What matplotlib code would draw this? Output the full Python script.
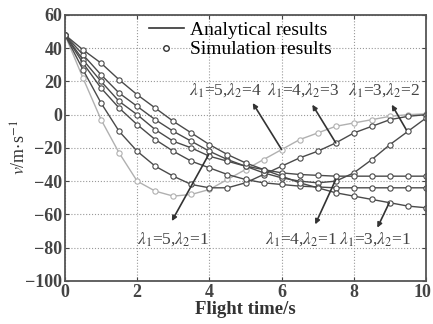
import matplotlib
matplotlib.use('Agg')
import matplotlib.pyplot as plt
import matplotlib.transforms as mtransforms
from matplotlib.lines import Line2D

plt.rcParams['font.family'] = ['Liberation Serif', 'DejaVu Serif']
plt.rcParams['mathtext.fontset'] = 'stix'

# flight time samples (s)
t = [0, 0.5, 1, 1.5, 2, 2.5, 3, 3.5, 4, 4.5, 5, 5.5, 6, 6.5, 7, 7.5, 8, 8.5, 9, 9.5, 10]

# vertical velocity v (m/s)
v_l5_l4 = [48, 22, -3, -23, -40, -46, -49, -48, -45, -39, -33, -27, -21, -15, -11, -7, -5, -3, -1, 0, 0.5]
v_l4_l3 = [48, 27, 7, -10, -22, -31, -37, -42, -44, -44, -41, -36, -31, -26, -22, -17, -11, -7, -3, -1, 0]
v_l3_l2 = [48, 36, 24, 13, 5, -3, -10, -16, -22, -27, -31, -35, -38, -40, -41, -40, -35, -27, -18, -10, -2]
v_l5_l1 = [48, 33, 20, 8, 0, -9, -16, -20, -25, -28, -31, -33, -35, -36, -36.5, -37, -37, -37, -37, -37, -37]
v_l4_l1 = [48, 31, 16, 4, -6, -15, -22, -28, -32, -36, -39, -41, -42, -43, -43.5, -44, -44, -44, -44, -44, -44]
v_l3_l1 = [48, 39, 31, 21, 12, 4, -4, -11, -18, -24, -29, -33, -37, -41, -44, -47, -49, -51, -53, -55, -56]

series = [v_l5_l4, v_l4_l3, v_l3_l2, v_l5_l1, v_l4_l1, v_l3_l1]
colors = ['#b0b0b0', '#4a4a4a', '#4a4a4a', '#4a4a4a', '#4a4a4a', '#4a4a4a']

labels = [r'$\lambda_1$=5,$\lambda_2$=4', r'$\lambda_1$=4,$\lambda_2$=3', r'$\lambda_1$=3,$\lambda_2$=2',
          r'$\lambda_1$=5,$\lambda_2$=1', r'$\lambda_1$=4,$\lambda_2$=1', r'$\lambda_1$=3,$\lambda_2$=1']
label_pos = [(4.45, 15), (6.6, 15), (8.85, 15), (3.0, -75), (6.55, -75), (8.6, -75)]
# arrow: (point on curve, arrow head near the label)
arrows = [((6.0, -21), (5.2, 7)), ((7.5, -17), (6.85, 6)), ((9.45, -9), (9.05, 6)),
          ((3.98, -24), (2.96, -64)), ((7.5, -39), (6.93, -66)), ((8.98, -53), (8.65, -68))]

fig = plt.figure(figsize=(4.33, 3.24), dpi=100)
ax = fig.add_axes([0.150, 0.133, 0.834, 0.821])

for v, c in zip(series, colors):
    ax.plot(t, v, color=c, lw=1.0, marker='o', ms=3.8, mfc='white', mec=c, mew=0.8)

for lab, (x, y) in zip(labels, label_pos):
    ax.text(x, y, lab, ha='center', va='center', fontsize=12.5, color='#444444')

for (x0, y0), (x1, y1) in arrows:
    ax.annotate('', xy=(x1, y1), xytext=(x0, y0),
                arrowprops=dict(arrowstyle='-|>', color='#333333', lw=1.2,
                                mutation_scale=7, shrinkA=0, shrinkB=0))

ax.set_xlim(0, 10)
ax.set_ylim(-100, 60)
ax.set_xticks([0, 2, 4, 6, 8, 10])
ax.set_yticks([-100, -80, -60, -40, -20, 0, 20, 40, 60])
ax.grid(True, ls=':', color='#999999', lw=0.8)
ax.tick_params(direction='in', top=True, right=True, length=3, colors='#444444',
               labelsize=13, pad=2)
for lab in ax.get_xticklabels() + ax.get_yticklabels():
    lab.set_fontweight('bold')
# nudge the last x tick label so it stays inside the picture
last = ax.get_xticklabels()[-1]
last.set_transform(last.get_transform() + mtransforms.ScaledTranslation(-4 / 100, 0, fig.dpi_scale_trans))
for s in ax.spines.values():
    s.set_color('#555555')
    s.set_linewidth(1.3)

ax.set_xlabel('Flight time/s', fontsize=13.5, fontweight='bold', color='#333333', labelpad=0)
ax.set_ylabel(r'$v$/m$\cdot$s$^{-1}$', fontsize=13, color='#333333', labelpad=-3)

handles = [Line2D([], [], color='#333333', lw=1.2),
           Line2D([], [], ls='none', marker='o', ms=4, mfc='white', mec='#333333')]
ax.legend(handles, ['Analytical results', 'Simulation results'], loc='upper left',
          bbox_to_anchor=(0.2, 1.02), frameon=False, fontsize=14, handlelength=1.8,
          handletextpad=0.3, labelspacing=0.1, borderaxespad=0.2)

fig.savefig('out.png', dpi=100)
